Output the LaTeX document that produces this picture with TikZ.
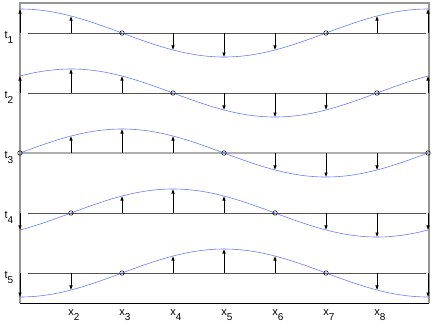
\documentclass[tikz,border=0pt]{standalone}
\usepackage{fontspec}
\setmainfont{Liberation Sans}
\usetikzlibrary{arrows.meta}
\definecolor{wave}{RGB}{105,125,255}
\definecolor{axisgray}{RGB}{150,150,150}
\definecolor{linegray}{RGB}{85,85,85}
\definecolor{midgray}{RGB}{175,175,175}
\tikzset{
  wavecurve/.style={wave, line width=0.6pt},
  rowline/.style={linegray, line width=0.7pt},
  midline/.style={midgray, line width=1.6pt},
  vec/.style={black, line width=0.6pt, -{Latex[length=4.5pt,width=3.5pt]}},
  zeromark/.style={draw=black, line width=0.5pt, circle, inner sep=0pt, minimum size=4.5pt},
  framegray/.style={axisgray, line width=1.6pt},
  framebottom/.style={black, line width=0.8pt},
  lbl/.style={font=\fontsize{11}{11}\selectfont, inner sep=0pt},
}
\newcommand{\subsc}[2]{#1\raisebox{-5pt}{\fontsize{10}{10}\selectfont #2}}
\begin{document}
\begin{tikzpicture}[x=1pt,y=-1pt]
\useasboundingbox (0,0) rectangle (436,327);
% frame
\coordinate (fbl) at (20,303);
\coordinate (ftl) at (20,3);
\coordinate (ftr) at (429,3);
\coordinate (fbr) at (429,303);
\draw[framegray] (fbl) -- (ftl) -- (ftr) -- (fbr);
\draw[framebottom] (fbl) -- (fbr);
\foreach \i in {0,...,4}{
  \pgfmathsetmacro{\base}{33+60*\i}
  \pgfmathtruncatemacro{\n}{\i+1}
  \ifnum\i=2
    \draw[midline] (20,\base) coordinate (l\i) -- (429,\base) coordinate (r\i);
  \else
    \draw[rowline] (28,\base) coordinate (l\i) -- (426,\base) coordinate (r\i);
  \fi
  \draw[wavecurve] plot[domain=20:428, samples=120, variable=\x] (\x, {\base - 24*cos(0.882353*(\x-20) - 45*\i)});
  \node[lbl] (t\i) at (9,\base+4) {\subsc{t}{\n}};
  \foreach \k in {0,...,8}{
    \pgfmathsetmacro{\xk}{20+51*\k}
    \pgfmathsetmacro{\v}{24*cos(45*(\k-\i))}
    \pgfmathtruncatemacro{\z}{(mod(\k-\i+16,4)==2)}
    \ifnum\z=1
      \node[zeromark] (z\i\k) at (\xk,\base) {};
    \else
      \coordinate (b\i\k) at (\xk,\base);
      \coordinate (c\i\k) at (\xk,\base-\v);
      \draw[vec] (b\i\k) -- (c\i\k);
    \fi
  }
}
\foreach \k in {2,...,8}{
  \pgfmathsetmacro{\xk}{20+51*(\k-1)+3}
  \node[lbl] (x\k) at (\xk,315) {\subsc{x}{\k}};
}
\end{tikzpicture}
\end{document}
